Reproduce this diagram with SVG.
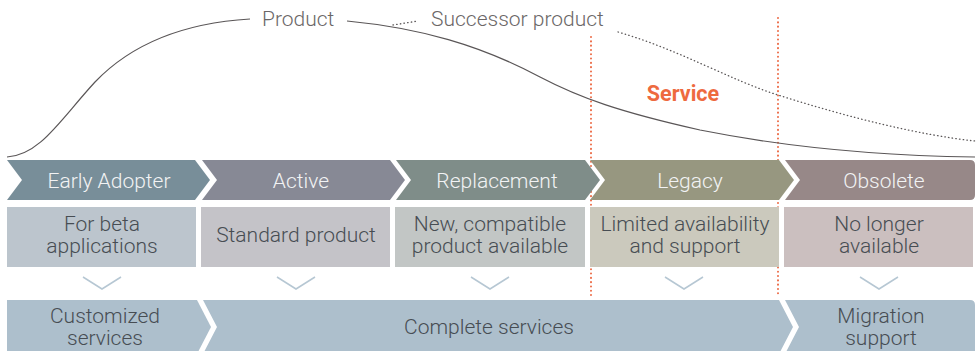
<svg xmlns="http://www.w3.org/2000/svg" width="976" height="351" viewBox="0 0 976 351">
<style>
.lbl{font-family:Roboto,"Liberation Sans",sans-serif;font-weight:300;font-size:21px;fill:#f2f3f4;text-anchor:middle}
.card{font-family:Roboto,"Liberation Sans",sans-serif;font-weight:300;font-size:21px;fill:#474d53;text-anchor:middle}
.top{font-family:Roboto,"Liberation Sans",sans-serif;font-weight:300;font-size:21px;fill:#6b6767}
.curve{fill:none;stroke:#5a5657;stroke-width:1.2}
.dot{fill:none;stroke:#5a5657;stroke-width:1.3;stroke-dasharray:0.5 3.2;stroke-linecap:round}
.red{fill:none;stroke:#ec6a45;stroke-width:2;stroke-dasharray:0.1 4.2;stroke-linecap:round}
.vee{fill:none;stroke:#b6c7d3;stroke-width:1.5}
</style>
<rect width="976" height="351" fill="#ffffff"/>
<g id="service-lines">
<line class="red" x1="591" y1="37" x2="591" y2="297"/>
<line class="red" x1="778" y1="18" x2="778" y2="297"/>
</g>
<g id="curves">
<path class="curve" d="M7,157 C40,155 60,120 95,82 C140,35 200,22 250,19"/>
<path class="curve" d="M347,21 C420,28 480,45 540,77 C580,98 620,112 700,130 C800,150 900,156 975,157"/>
<path class="dot" d="M393,25 L418,21"/>
<path class="dot" d="M618,32 C680,50 730,80 778,95 C850,118 920,135 975,141"/>
<text class="top" x="262" y="26">Product</text>
<text class="top" x="431" y="26">Successor product</text>
<text x="683" y="101" style="font-family:Roboto,'Liberation Sans',sans-serif;font-weight:700;font-size:21.5px;fill:#ee6a3f;text-anchor:middle">Service</text>
</g>
<g id="early-adopter">
<polygon points="7,160 195,160 210,180 195,200 7,200 22,180" fill="#788e99"/>
<text class="lbl" x="109" y="187.5">Early Adopter</text>
<rect x="7" y="207" width="189" height="60" fill="#bcc5cd"/>
<text class="card" x="102" y="230.5">For beta</text>
<text class="card" x="102" y="252.5">applications</text>
<polyline class="vee" points="83,277 102,289 121,277"/>
</g>
<g id="active">
<polygon points="202,160 390,160 405,180 390,200 202,200 217,180" fill="#878995"/>
<text class="lbl" x="301" y="187.5">Active</text>
<rect x="201" y="207" width="189" height="60" fill="#c4c3c8"/>
<text class="card" x="296" y="242">Standard product</text>
<polyline class="vee" points="277,277 296,289 315,277"/>
</g>
<g id="replacement">
<polygon points="396,160 585,160 600,180 585,200 396,200 411,180" fill="#7f8d89"/>
<text class="lbl" x="497" y="187.5">Replacement</text>
<rect x="395" y="207" width="190" height="60" fill="#c2c6c5"/>
<text class="card" x="490" y="230.5">New, compatible</text>
<text class="card" x="490" y="252.5">product available</text>
<polyline class="vee" points="471,277 490,289 509,277"/>
</g>
<g id="legacy">
<polygon points="590,160 779,160 794,180 779,200 590,200 605,180" fill="#979780"/>
<text class="lbl" x="690" y="187.5">Legacy</text>
<rect x="590" y="207" width="189" height="60" fill="#cbc9bd"/>
<text class="card" x="685" y="230.5">Limited availability</text>
<text class="card" x="685" y="252.5">and support</text>
<polyline class="vee" points="665,277 684,289 703,277"/>
</g>
<g id="obsolete">
<path d="M785,160 L970,160 Q975,160 975,165 L975,195 Q975,200 970,200 L785,200 L800,180 Z" fill="#978888"/>
<text class="lbl" x="884" y="187.5">Obsolete</text>
<rect x="784" y="207" width="189" height="60" fill="#cbbfbf"/>
<text class="card" x="879" y="230.5">No longer</text>
<text class="card" x="879" y="252.5">available</text>
<polyline class="vee" points="860,277 879,289 898,277"/>
</g>
<g id="customized-services">
<polygon points="7,300 197,300 211,327 197,354 7,354" fill="#adbfcc"/>
<text class="card" x="105" y="323">Customized</text>
<text class="card" x="105" y="345">services</text>
</g>
<g id="complete-services">
<polygon points="203,300 779,300 793,327 779,354 203,354 217,327" fill="#adbfcc"/>
<text class="card" x="489" y="334">Complete services</text>
</g>
<g id="migration-support">
<path d="M785,300 L970,300 Q975,300 975,305 L975,354 L785,354 L799,327 Z" fill="#adbfcc"/>
<text class="card" x="881" y="323">Migration</text>
<text class="card" x="881" y="345">support</text>
</g>
</svg>
